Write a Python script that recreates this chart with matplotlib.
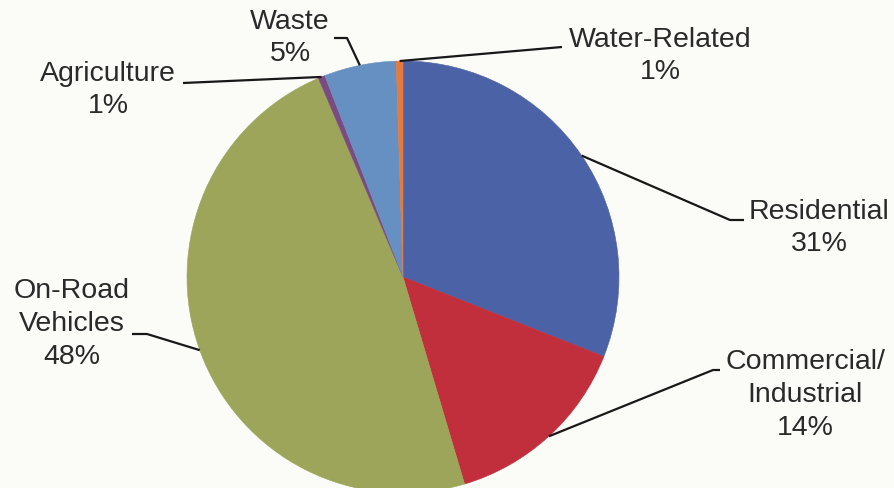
import numpy as np
import matplotlib
matplotlib.use("Agg")
import matplotlib.pyplot as plt

# Data (shares, clockwise from 12 o'clock)
sectors = ["Residential", "Commercial/\nIndustrial", "On-Road\nVehicles",
           "Agriculture", "Waste", "Water-Related"]
shares = [31.0, 14.4, 48.2, 0.5, 5.4, 0.5]
pct_labels = ["31%", "14%", "48%", "1%", "5%", "1%"]
colors = ["#4B62A6", "#C22F3C", "#9CA55A", "#7A4A80", "#6790C2", "#E57A3C"]

# Layout (pixels of the 895x488 image): pie centre, radius, label spots
W, H = 895, 488
CX, CY, R = 403, 277, 216
text_pos = [(819, 228), (805, 395), (72, 324), (108, 90), (290, 38), (660, 56)]
elbows = [[(730, 220), (744, 220)],
          [(713, 370), (720, 370)],
          [(147, 334), (132, 334)],
          [(183, 83)],
          [(347, 38), (334, 38)],
          [(562, 47)]]


def px(x, y):
    return (x - CX) / R, (CY - y) / R


plt.rcParams["font.family"] = ["Liberation Sans", "DejaVu Sans"]
bg = "#FBFBF8"
fig = plt.figure(figsize=(W / 100, H / 100), dpi=100, facecolor=bg)
ax = fig.add_axes([0, 0, 1, 1])
ax.set_facecolor(bg)

wedges, _ = ax.pie(shares, colors=colors, startangle=90, counterclock=False,
                   radius=1, center=(0, 0), wedgeprops=dict(linewidth=0.4))
for w, c in zip(wedges, colors):
    w.set_edgecolor(c)

x0, _ = px(0, 0)
x1, _ = px(W, 0)
_, y0 = px(0, H)
_, y1 = px(0, 0)
ax.set_xlim(x0, x1)
ax.set_ylim(y0, y1)
ax.set_aspect("equal")
ax.axis("off")

for w, name, pct, tp, el in zip(wedges, sectors, pct_labels, text_pos, elbows):
    mid = np.deg2rad((w.theta1 + w.theta2) / 2)
    pts = [(np.cos(mid), np.sin(mid))] + [px(*p) for p in el]
    xs, ys = zip(*pts)
    ax.plot(xs, ys, color="#181818", lw=1.6, solid_capstyle="butt")
    tx, ty = px(*tp)
    ax.text(tx, ty, name + "\n" + pct, ha="center", va="center",
            fontsize=20.5, color="#2a2a2a", linespacing=1.33)

fig.savefig("out.png", dpi=100, facecolor=bg)
